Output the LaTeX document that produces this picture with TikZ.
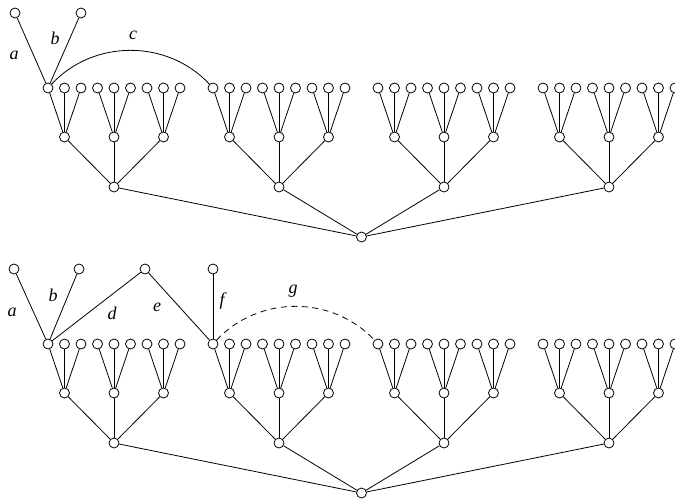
\documentclass[tikz,border=0pt]{standalone}
\usepackage{fontspec}
\setmainfont{Liberation Serif}
\begin{document}
\begin{tikzpicture}[x=1pt,y=-1pt,
  vtx/.style={circle,draw,fill=white,inner sep=0pt,minimum size=10pt,line width=0.8pt},
  edge/.style={line width=0.8pt},
  lbl/.style={font=\fontsize{18}{18}\selectfont\itshape,inner sep=0pt}]
\useasboundingbox (0,0) rectangle (675,500);

% two copies of the same forest: t (upper) and u (lower)
\foreach \r/\dy in {t/0,u/256}{
  \node[vtx] (\r-root) at (361.5,237+\dy) {};
  \foreach \i in {0,1,2,3}{
    \pgfmathsetmacro{\bx}{48+165*\i}
    \node[vtx] (\r-\i) at (\bx+66,187+\dy) {};
    \draw[edge] (\r-\i) -- (\r-root);
    \foreach \j in {0,1,2}{
      \node[vtx] (\r-\i-\j) at (\bx+49.5*\j+16.5,137+\dy) {};
      \draw[edge] (\r-\i-\j) -- (\r-\i);
      \foreach \k in {0,1,2}{
        \node[vtx] (\r-\i-\j-\k) at (\bx+49.5*\j+16.5*\k,88+\dy) {};
        \draw[edge] (\r-\i-\j-\k) -- (\r-\i-\j);
      }
    }
  }
}

% upper picture: extra edges a, b and the arc c
\node[vtx] (ta) at (15,13) {};
\node[vtx] (tb) at (81,13) {};
\draw[edge] (t-0-0-0) -- (ta);
\draw[edge] (t-0-0-0) -- (tb);
\draw[edge] (t-0-0-0) to[out=47,in=133] (t-1-0-0);
\node[lbl] (la) at (14,55) {a};
\node[lbl] (lb) at (55,38) {b};
\node[lbl] (lc) at (133,35) {c};

% lower picture: edges a, b, d, e, f and the dashed arc g
\node[vtx] (ua) at (14,269) {};
\node[vtx] (ub) at (79,269) {};
\node[vtx] (ud) at (145,269) {};
\node[vtx] (uf) at (213,269) {};
\draw[edge] (u-0-0-0) -- (ua);
\draw[edge] (u-0-0-0) -- (ub);
\draw[edge] (u-0-0-0) -- (ud);
\draw[edge] (ud) -- (u-1-0-0);
\draw[edge] (uf) -- (u-1-0-0);
\draw[edge,dash pattern=on 6pt off 4.5pt] (u-1-0-0) to[out=47,in=133] (u-2-0-0);
\node[lbl] (ma) at (12,312) {a};
\node[lbl] (mb) at (53,295) {b};
\node[lbl] (md) at (112,313) {d};
\node[lbl] (me) at (157,307) {e};
\node[lbl] (mf) at (222,301) {f};
\node[lbl] (mg) at (293,291) {g};
\end{tikzpicture}
\end{document}
